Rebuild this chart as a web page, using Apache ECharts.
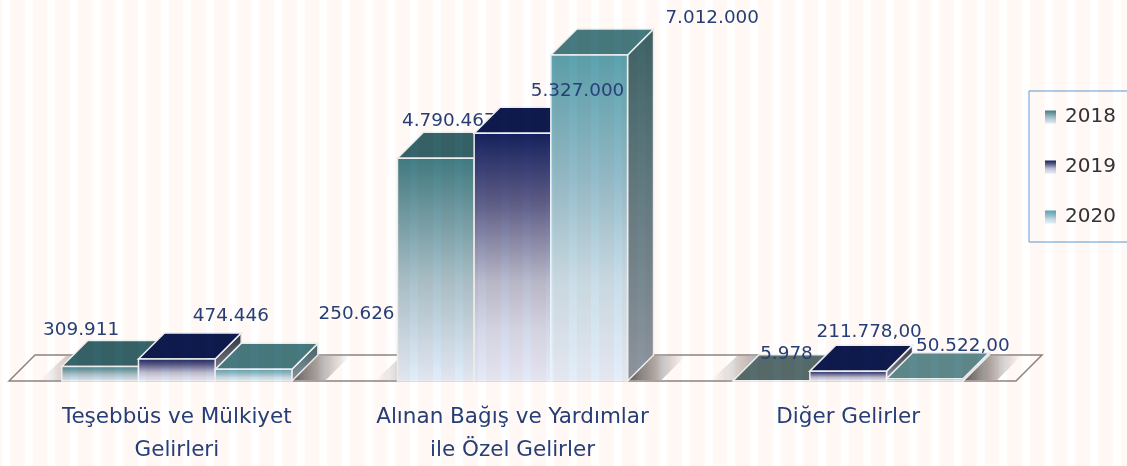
<!DOCTYPE html>
<html>
<head>
<meta charset="utf-8">
<title>Gelirler</title>
<script src="https://cdn.jsdelivr.net/npm/echarts@6/dist/echarts.min.js"></script>
<style>
html, body { margin: 0; padding: 0; background: #fff; overflow: hidden; }
#main { width: 1127px; height: 466px; filter: blur(0.45px); }
/* reference has faint vertical bands over everything */
#bands { position: fixed; left: 0; top: 0; width: 1127px; height: 466px; pointer-events: none; mix-blend-mode: multiply;
  background: repeating-linear-gradient(90deg, #fff 0, #fff 8px, #fff8f5 8px, #fff8f5 22.67px); background-position: 2px 0; }
</style>
</head>
<body>
<div id="main"></div>
<div id="bands"></div>
<script>
var categories = ['Teşebbüs ve Mülkiyet\nGelirleri', 'Alınan Bağış ve Yardımlar\nile Özel Gelirler', 'Diğer Gelirler'];
var years = ['2018', '2019', '2020'];
var values2018 = [309911, 4790467, 5978];
var values2019 = [474446, 5327000, 211778];
var values2020 = [250626, 7012000, 50522];
var labels2018 = ['309.911', '4.790.467', '5.978'];
var labels2019 = ['474.446', '5.327.000', '211.778,00'];
var labels2020 = ['250.626', '7.012.000', '50.522,00'];

var allValues = [values2018, values2019, values2020];
var allLabels = [labels2018, labels2019, labels2020];

// label nudges from the bar's top centre, one row per year
var labelShift = [
  [[-19, -36], [13, -37], [15, -27]],
  [[54, -43], [65, -42.5], [21, -39]],
  [[103, -55], [123, -37], [38, -32]]
];

var depth = 26;
var barRatio = 0.2285;
var labelColor = '#27407a';

function grad(stops) {
  return new echarts.graphic.LinearGradient(0, 0, 0, 1, stops.map(function (s) {
    return { offset: s[0], color: s[1] };
  }));
}

var faces = [
  {
    front: [[0, '#417c84'], [0.55, '#a8c2cc'], [1, '#e2edfb']],
    top: '#35646a',
    topFlat: '#566c6d',
    side: [[0, '#35585c'], [1, '#8e97a2']]
  },
  {
    front: [[0, '#14215f'], [0.27, '#5a5b88'], [0.6, '#b8bccf'], [0.8, '#d4d9ea'], [1, '#e4eafa']],
    top: '#0f1a4f',
    topFlat: '#141f52',
    side: [[0, '#2c3040'], [1, '#8e97a2']]
  },
  {
    front: [[0, '#5aa2ae'], [0.38, '#93bccb'], [0.69, '#c8dde8'], [1, '#e4eefa']],
    top: '#467a80',
    topFlat: '#5d8a8e',
    side: [[0, '#3d6367'], [1, '#8e97a2']]
  }
];

function renderBar(i) {
  return function (params, api) {
    var c = api.value(0);
    var base = api.coord([c, 0]);
    var top = api.coord([c, api.value(1)]);
    var w = api.size([1, 0])[0] * barRatio;
    var x0 = base[0] + (i - 1.5) * w;
    var x1 = x0 + w;
    var line = { stroke: '#eef2f5', lineWidth: 1.5 };
    // nearly flat bars look washed out in the reference
    var topFill = base[1] - top[1] < 4 ? faces[i].topFlat : faces[i].top;
    return {
      type: 'group',
      children: [
        {
          type: 'polygon',
          shape: { points: [[x1, top[1]], [x1 + depth, top[1] - depth], [x1 + depth, base[1] - depth], [x1, base[1]]] },
          style: Object.assign({ fill: grad(faces[i].side) }, line)
        },
        {
          type: 'polygon',
          shape: { points: [[x0, top[1]], [x0 + depth, top[1] - depth], [x1 + depth, top[1] - depth], [x1, top[1]]] },
          style: Object.assign({ fill: topFill }, line)
        },
        {
          type: 'rect',
          shape: { x: x0, y: top[1], width: w, height: base[1] - top[1] },
          style: Object.assign({ fill: grad(faces[i].front) }, line)
        }
      ]
    };
  };
}

function renderLabel(i) {
  return function (params, api) {
    var c = api.value(0);
    var top = api.coord([c, api.value(1)]);
    var w = api.size([1, 0])[0] * barRatio;
    var shift = labelShift[i][c];
    return {
      type: 'text',
      x: top[0] + (i - 1) * w + shift[0],
      y: top[1] + shift[1],
      style: {
        text: allLabels[i][c],
        fill: labelColor,
        font: '18.4px "DejaVu Sans"',
        align: 'center',
        verticalAlign: 'middle'
      }
    };
  };
}

function renderFloor(params, api) {
  var g = params.coordSys;
  var y = g.y + g.height;
  return {
    type: 'polygon',
    shape: { points: [[g.x, y], [g.x + depth, y - depth], [g.x + g.width + depth, y - depth], [g.x + g.width, y]] },
    style: { fill: '#fff', stroke: '#8b8682', lineWidth: 1.5 }
  };
}

function renderShadow(params, api) {
  var base = api.coord([api.value(0), 0]);
  var w = api.size([1, 0])[0] * barRatio;
  var r = base[0] + 1.5 * w;
  var l = base[0] - 1.5 * w;
  var y = base[1] - 1;
  var rightGrad = new echarts.graphic.LinearGradient(0, 0, 1, 0, [
    { offset: 0, color: 'rgba(70,62,58,0.85)' }, { offset: 0.45, color: 'rgba(90,82,78,0.5)' }, { offset: 1, color: 'rgba(120,110,105,0)' }
  ]);
  var leftGrad = new echarts.graphic.LinearGradient(0, 0, 1, 0, [
    { offset: 0, color: 'rgba(120,110,105,0)' }, { offset: 1, color: 'rgba(120,110,105,0.55)' }
  ]);
  return {
    type: 'group',
    children: [
      {
        type: 'polygon',
        shape: { points: [[r, y], [r + depth - 2, y - depth + 2], [r + depth + 32, y - depth + 2], [r + 34, y]] },
        style: { fill: rightGrad }
      },
      {
        type: 'polygon',
        shape: { points: [[l - 22, y], [l + 4, y - depth + 2], [l + depth, y - depth + 2], [l, y]] },
        style: { fill: leftGrad }
      }
    ]
  };
}

function pairs(values) {
  return values.map(function (v, c) { return [c, v]; });
}

var series = [
  { type: 'custom', name: 'floor', z: 1, silent: true, renderItem: renderFloor, data: [[0, 0]] },
  { type: 'custom', name: 'shadow', z: 1.5, silent: true, renderItem: renderShadow, data: pairs([0, 0, 0]) }
];
years.forEach(function (year, i) {
  series.push({ type: 'custom', name: year, z: 2 + i, renderItem: renderBar(i), encode: { x: 0, y: 1 }, itemStyle: { color: faces[i].front[0][1] }, data: pairs(allValues[i]) });
  // the 2018 labels sit under the 2019 bars, the others on top of everything
  series.push({ type: 'custom', name: 'label' + year, z: i === 0 ? 2.5 : 6, silent: true, renderItem: renderLabel(i), encode: { x: 0, y: 1 }, data: pairs(allValues[i]) });
});

var myChart = echarts.init(document.getElementById('main'));
myChart.setOption({
  animation: false,
  grid: { left: 9, width: 1007, top: 9, bottom: 85, outerBoundsMode: 'none' },
  legend: {
    left: 1029,
    top: 91,
    orient: 'vertical',
    padding: [16, 40, 15, 16],
    itemGap: 30,
    itemWidth: 11,
    itemHeight: 13,
    borderColor: '#5b9bd5',
    borderWidth: 1,
    textStyle: { fontFamily: 'DejaVu Sans', fontSize: 20, color: '#333', padding: [0, 0, 0, 4] },
    data: years.map(function (year, i) {
      return { name: year, icon: 'rect', itemStyle: { color: grad(faces[i].front) } };
    })
  },
  xAxis: {
    type: 'category',
    data: categories,
    axisLine: { show: false },
    axisTick: { show: false },
    axisLabel: { margin: 20, interval: 0, fontFamily: 'DejaVu Sans', fontSize: 21.5, lineHeight: 33, color: labelColor }
  },
  yAxis: { type: 'value', min: 0, max: 8000000, show: false },
  series: series
});
</script>
</body>
</html>
